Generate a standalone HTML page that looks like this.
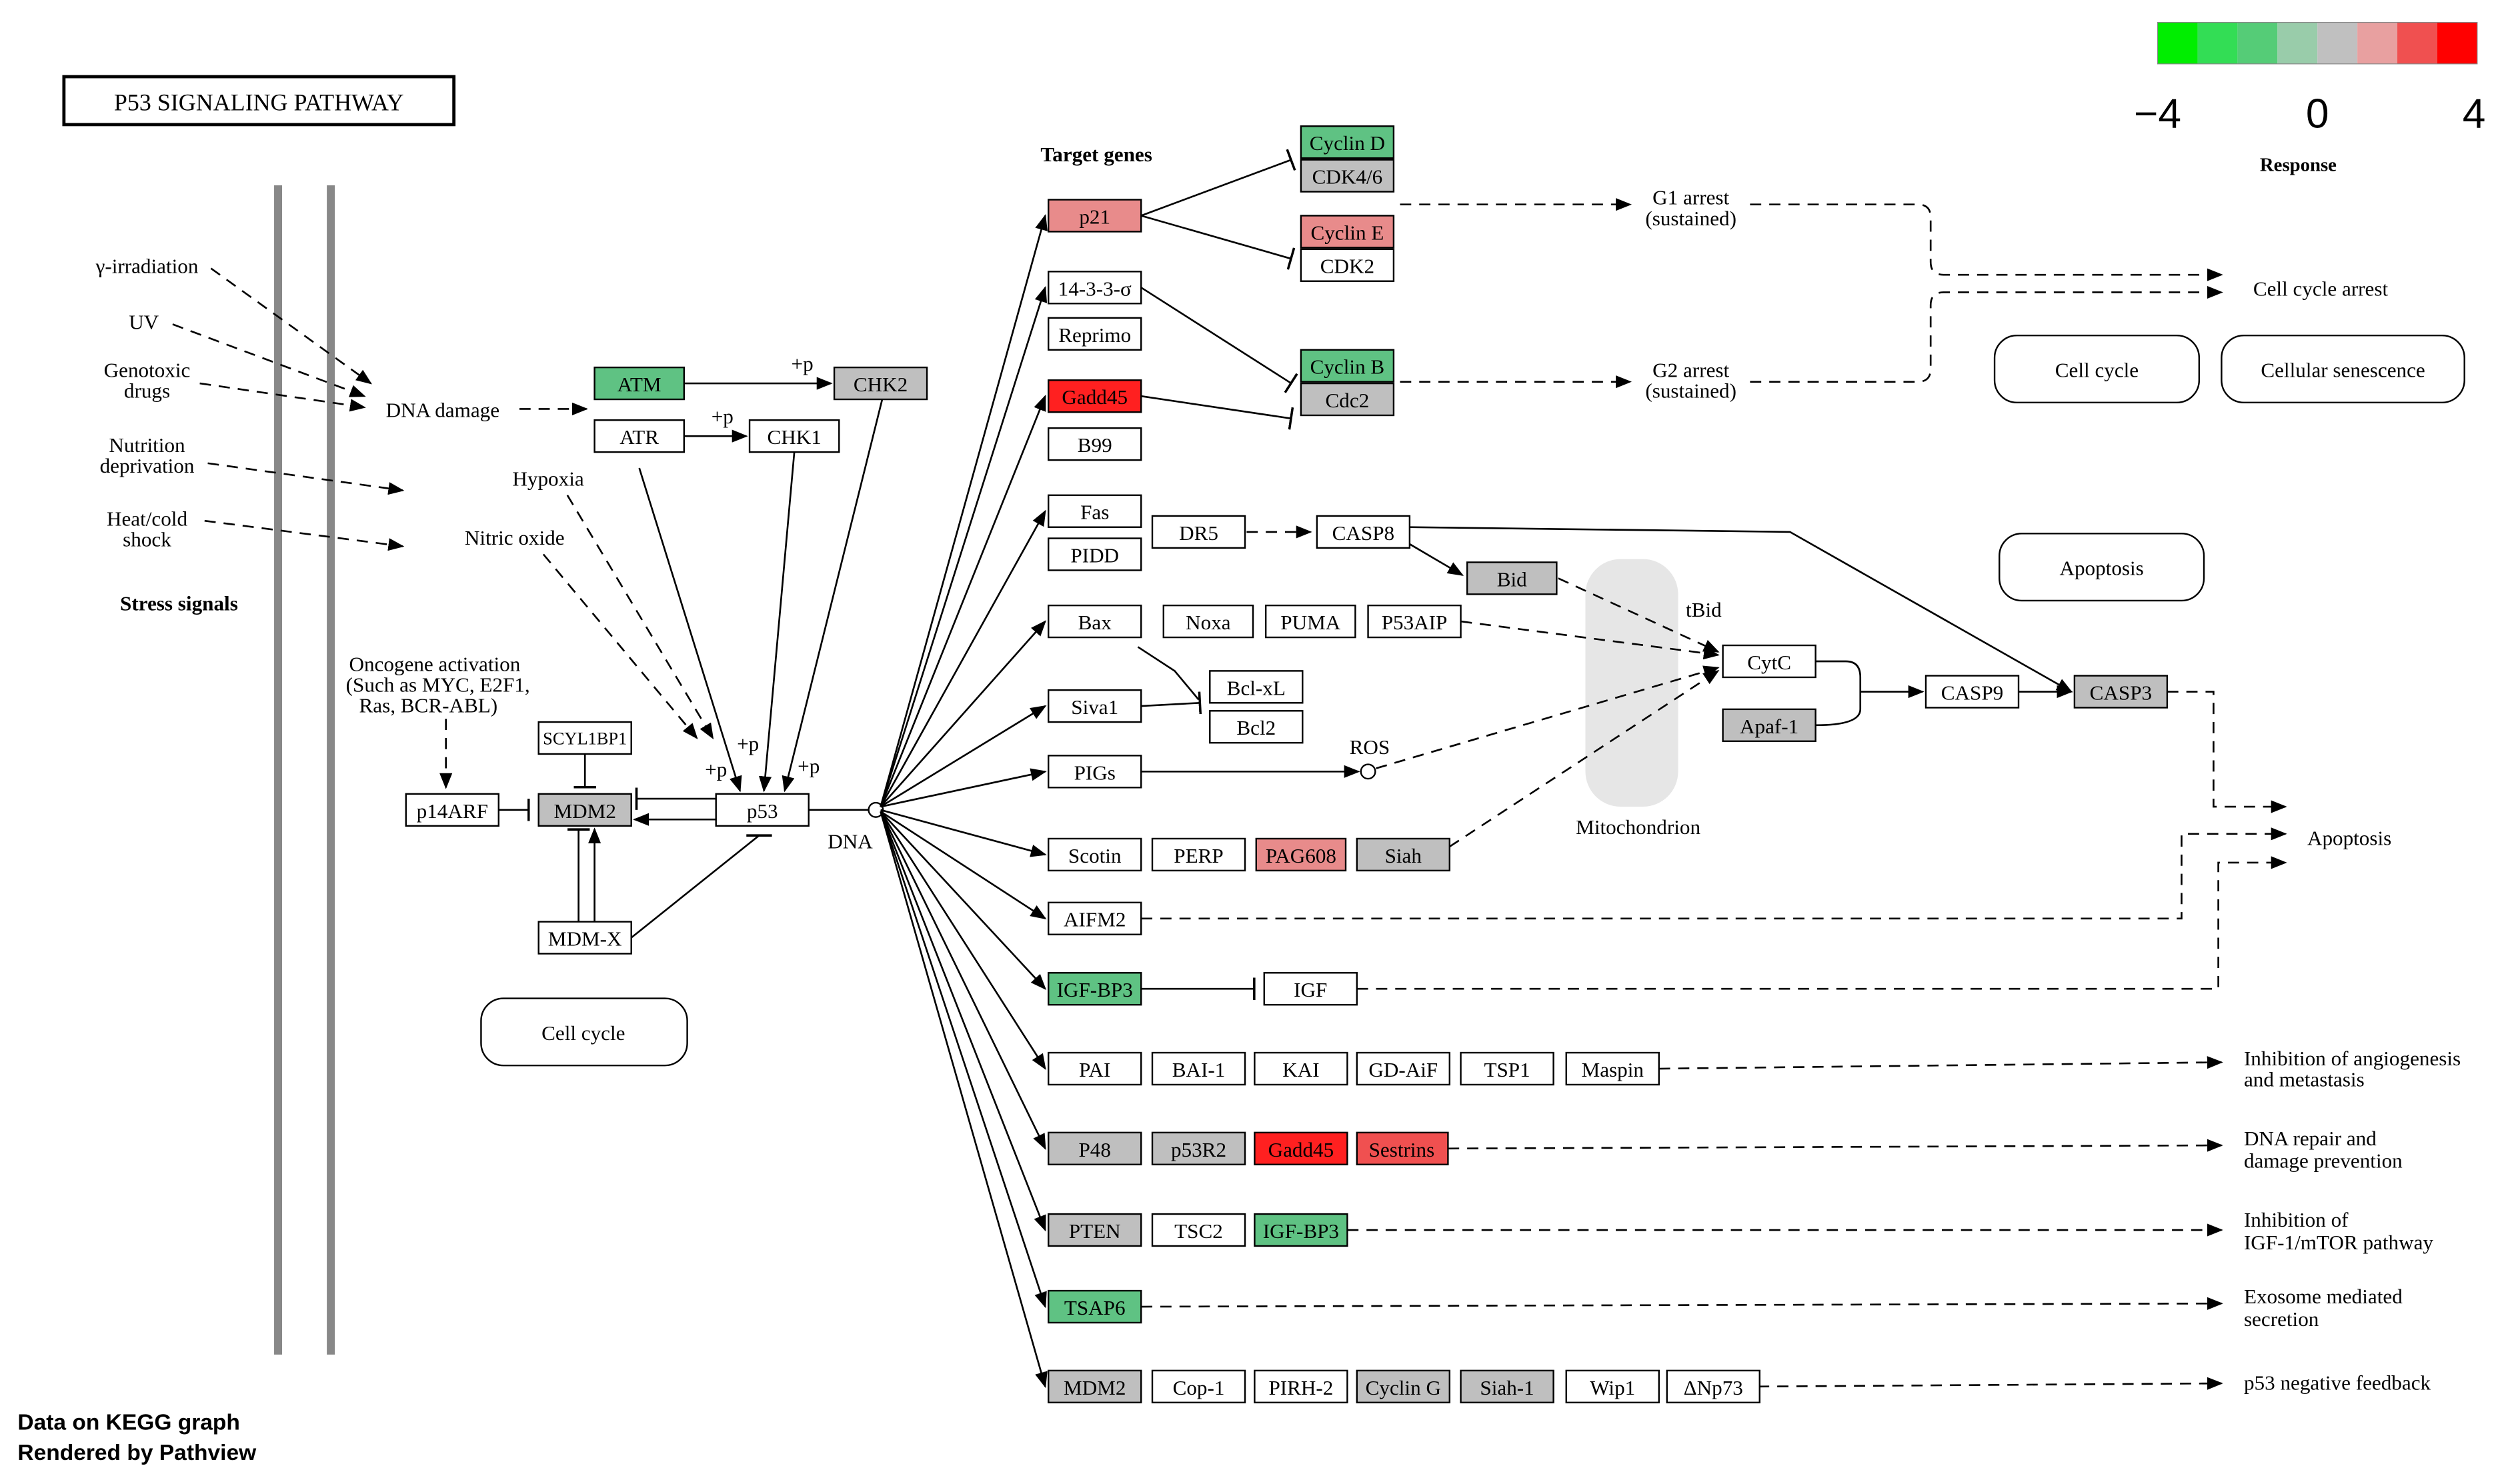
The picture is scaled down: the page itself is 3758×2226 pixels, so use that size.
<!DOCTYPE html>
<html><head><meta charset="utf-8"><style>
html,body{margin:0;padding:0;background:#fff;}
svg{display:block;}
text{font-family:"Liberation Serif",serif;font-size:13px;fill:#000;}
.b{font-weight:bold;}
.n{stroke:#000;stroke-width:1;}
.l{stroke:#000;stroke-width:1.1;fill:none;}
.d{stroke:#000;stroke-width:1.1;fill:none;stroke-dasharray:7,5;}
</style></head><body>
<svg width="3758" height="2226" viewBox="0 0 1568 929" preserveAspectRatio="none" xmlns="http://www.w3.org/2000/svg">
<defs>
<marker id="a" markerWidth="10" markerHeight="8" refX="9" refY="4" orient="auto" markerUnits="userSpaceOnUse"><path d="M0,0 L10,4 L0,8 z" fill="#000"/></marker>
<marker id="t" markerWidth="2" markerHeight="14" refX="1" refY="7" orient="auto" markerUnits="userSpaceOnUse"><rect x="0" y="0" width="1.5" height="14" fill="#000"/></marker>
</defs>
<rect width="1568" height="929" fill="#fff"/>
<!-- mitochondrion -->
<rect x="992" y="350" width="58" height="155" rx="22" fill="#e6e6e6"/>
<text x="1025" y="522" text-anchor="middle">Mitochondrion</text>
<!-- title -->
<rect x="40" y="48" width="244" height="30" fill="#fff" stroke="#000" stroke-width="2"/>
<text x="162" y="69" text-anchor="middle" style="font-size:15px">P53  SIGNALING  PATHWAY</text>
<!-- legend -->
<g>
<rect x="1350" y="14" width="25" height="26" fill="#00ee00"/>
<rect x="1375" y="14" width="25" height="26" fill="#33dd55"/>
<rect x="1400" y="14" width="25" height="26" fill="#55cc77"/>
<rect x="1425" y="14" width="25" height="26" fill="#99ccaa"/>
<rect x="1450" y="14" width="25" height="26" fill="#c0c0c0"/>
<rect x="1475" y="14" width="25" height="26" fill="#e8a0a0"/>
<rect x="1500" y="14" width="25" height="26" fill="#f05050"/>
<rect x="1525" y="14" width="25" height="26" fill="#ff0000"/>
<rect x="1350" y="14" width="200" height="26" fill="none" stroke="#888" stroke-width="0.5"/>
<text x="1350" y="80" text-anchor="middle" style="font-family:'Liberation Sans',sans-serif;font-size:26px">−4</text>
<text x="1450" y="80" text-anchor="middle" style="font-family:'Liberation Sans',sans-serif;font-size:26px">0</text>
<text x="1548" y="80" text-anchor="middle" style="font-family:'Liberation Sans',sans-serif;font-size:26px">4</text>
<text x="1438" y="107" text-anchor="middle" class="b" style="font-size:12px">Response</text>
</g>
<!-- membrane -->
<line x1="174" y1="116" x2="174" y2="848" stroke="#888" stroke-width="5"/>
<line x1="207" y1="116" x2="207" y2="848" stroke="#888" stroke-width="5"/>
<!-- stress -->
<text x="92" y="171" text-anchor="middle">γ-irradiation</text>
<text x="90" y="206" text-anchor="middle">UV</text>
<text x="92" y="236" text-anchor="middle">Genotoxic</text><text x="92" y="249" text-anchor="middle">drugs</text>
<text x="92" y="283" text-anchor="middle">Nutrition</text><text x="92" y="296" text-anchor="middle">deprivation</text>
<text x="92" y="329" text-anchor="middle">Heat/cold</text><text x="92" y="342" text-anchor="middle">shock</text>
<text x="112" y="382" text-anchor="middle" class="b">Stress signals</text>
<path class="d" d="M132,168 L232,240" marker-end="url(#a)"/>
<path class="d" d="M108,203 L228,248" marker-end="url(#a)"/>
<path class="d" d="M125,240 L228,255" marker-end="url(#a)"/>
<path class="d" d="M130,290 L252,307" marker-end="url(#a)"/>
<path class="d" d="M128,326 L252,342" marker-end="url(#a)"/>
<text x="277" y="261" text-anchor="middle">DNA damage</text>
<path class="d" d="M325,256 L367,256" marker-end="url(#a)"/>
<text x="343" y="304" text-anchor="middle">Hypoxia</text>
<text x="322" y="341" text-anchor="middle">Nitric oxide</text>
<text x="272" y="420" text-anchor="middle">Oncogene activation</text>
<text x="274" y="433" text-anchor="middle">(Such as MYC, E2F1,</text>
<text x="268" y="446" text-anchor="middle">Ras, BCR-ABL)</text>
<!-- left edges -->
<path class="l" d="M428,240 L520,240" marker-end="url(#a)"/>
<text x="502" y="232" text-anchor="middle">+p</text>
<path class="l" d="M428,273 L467,273" marker-end="url(#a)"/>
<text x="452" y="265" text-anchor="middle">+p</text>
<path class="l" d="M400,293 L463,495" marker-end="url(#a)"/>
<path class="l" d="M497,283 L478,495" marker-end="url(#a)"/>
<path class="l" d="M552,250 L491,495" marker-end="url(#a)"/>
<path class="d" d="M355,310 L446,462" marker-end="url(#a)"/>
<path class="d" d="M340,347 L436,462" marker-end="url(#a)"/>
<text x="448" y="486" text-anchor="middle">+p</text>
<text x="468" y="470" text-anchor="middle">+p</text>
<text x="506" y="484" text-anchor="middle">+p</text>
<path class="d" d="M279,450 L279,493" marker-end="url(#a)"/>
<path class="l" d="M312,507 L331,507" marker-end="url(#t)"/>
<path class="l" d="M366,472 L366,493" marker-end="url(#t)"/>
<path class="l" d="M448,500 L398,500" marker-end="url(#t)"/>
<path class="l" d="M448,513 L397,513" marker-end="url(#a)"/>
<path class="l" d="M362,577 L362,519" marker-end="url(#t)"/>
<path class="l" d="M372,577 L372,519" marker-end="url(#a)"/>
<path class="l" d="M395,587 L475,523"/>
<line x1="467" y1="523" x2="483" y2="523" stroke="#000" stroke-width="1.5"/>
<path class="l" d="M506,507 L544,507"/>
<circle cx="548" cy="507" r="4.5" fill="#fff" stroke="#000"/>
<text x="532" y="531" text-anchor="middle">DNA</text>
<!-- DNA fan -->
<g>
<path class="l" d="M551,505 L654,135" marker-end="url(#a)"/>
<path class="l" d="M551,505 L654,180" marker-end="url(#a)"/>
<path class="l" d="M551,505 L654,248" marker-end="url(#a)"/>
<path class="l" d="M551,505 L654,320" marker-end="url(#a)"/>
<path class="l" d="M551,505 L654,389" marker-end="url(#a)"/>
<path class="l" d="M551,505 L654,442" marker-end="url(#a)"/>
<path class="l" d="M551,505 L654,483" marker-end="url(#a)"/>
<path class="l" d="M551,507 L654,535" marker-end="url(#a)"/>
<path class="l" d="M551,508 L654,575" marker-end="url(#a)"/>
<path class="l" d="M551,508 L654,619" marker-end="url(#a)"/>
<path class="l" d="M551,508 L654,669" marker-end="url(#a)"/>
<path class="l" d="M551,508 L654,719" marker-end="url(#a)"/>
<path class="l" d="M551,508 L654,770" marker-end="url(#a)"/>
<path class="l" d="M551,508 L654,818" marker-end="url(#a)"/>
<path class="l" d="M551,508 L654,868" marker-end="url(#a)"/>
</g>
<text x="686" y="101" text-anchor="middle" class="b">Target genes</text>
<!-- right edges -->
<path class="l" d="M714,135 L808,100" marker-end="url(#t)"/>
<path class="l" d="M714,135 L808,162" marker-end="url(#t)"/>
<path class="l" d="M714,180 L808,240" marker-end="url(#t)"/>
<path class="l" d="M714,248 L808,262" marker-end="url(#t)"/>
<path class="d" d="M876,128 L1020,128" marker-end="url(#a)"/>
<path class="d" d="M876,239 L1020,239" marker-end="url(#a)"/>
<text x="1058" y="128" text-anchor="middle">G1 arrest</text><text x="1058" y="141" text-anchor="middle">(sustained)</text>
<text x="1058" y="236" text-anchor="middle">G2 arrest</text><text x="1058" y="249" text-anchor="middle">(sustained)</text>
<path class="d" d="M1095,128 L1200,128 Q1208,128 1208,136 L1208,164 Q1208,172 1216,172 L1390,172" marker-end="url(#a)"/>
<path class="d" d="M1095,239 L1200,239 Q1208,239 1208,231 L1208,191 Q1208,183 1216,183 L1390,183" marker-end="url(#a)"/>
<text x="1452" y="185" text-anchor="middle">Cell cycle arrest</text>
<path class="d" d="M780,333 L820,333" marker-end="url(#a)"/>
<path class="l" d="M881,340 L915,360" marker-end="url(#a)"/>
<path class="l" d="M881,330 L1120,333 L1296,433" marker-end="url(#a)"/>
<path class="d" d="M975,362 L1075,408" marker-end="url(#a)"/>
<path class="d" d="M914,389 L1075,410" marker-end="url(#a)"/>
<path class="d" d="M861,481 L1075,418" marker-end="url(#a)"/>
<path class="d" d="M907,530 L1075,420" marker-end="url(#a)"/>
<text x="1066" y="386" text-anchor="middle">tBid</text>
<path class="l" d="M714,483 L850,483" marker-end="url(#a)"/>
<circle cx="856" cy="483" r="4.5" fill="#fff" stroke="#000"/>
<text x="857" y="472" text-anchor="middle">ROS</text>
<path class="l" d="M712,405 L735,420 L750,438"/>
<path class="l" d="M714,442 L751,440" marker-end="url(#t)"/>
<path class="l" d="M1136,414 L1155,414 Q1164,414 1164,424 L1164,444 Q1164,454 1136,454"/>
<path class="l" d="M1164,433 L1203,433" marker-end="url(#a)"/>
<path class="l" d="M1263,433 L1296,433" marker-end="url(#a)"/>
<path class="d" d="M1356,433 L1385,433 L1385,505 L1430,505" marker-end="url(#a)"/>
<path class="d" d="M714,575 L1365,575 L1365,522 L1430,522" marker-end="url(#a)"/>
<path class="l" d="M714,619 L785,619" marker-end="url(#t)"/>
<path class="d" d="M849,619 L1388,619 L1388,540 L1430,540" marker-end="url(#a)"/>
<text x="1470" y="529" text-anchor="middle">Apoptosis</text>
<path class="d" d="M1038,669 L1390,665" marker-end="url(#a)"/>
<path class="d" d="M906,719 L1390,717" marker-end="url(#a)"/>
<path class="d" d="M843,770 L1390,770" marker-end="url(#a)"/>
<path class="d" d="M714,818 L1390,816" marker-end="url(#a)"/>
<path class="d" d="M1100,868 L1390,866" marker-end="url(#a)"/>
<text x="1404" y="667">Inhibition of angiogenesis</text><text x="1404" y="680">and metastasis</text>
<text x="1404" y="717">DNA repair and</text><text x="1404" y="731">damage prevention</text>
<text x="1404" y="768">Inhibition of</text><text x="1404" y="782">IGF-1/mTOR pathway</text>
<text x="1404" y="816">Exosome mediated</text><text x="1404" y="830">secretion</text>
<text x="1404" y="870">p53 negative feedback</text>
<!-- rounded boxes -->
<rect x="301" y="625" width="129" height="42" rx="14" fill="#fff" stroke="#000"/><text x="365" y="651" text-anchor="middle">Cell cycle</text>
<rect x="1248" y="210" width="128" height="42" rx="14" fill="#fff" stroke="#000"/><text x="1312" y="236" text-anchor="middle">Cell cycle</text>
<rect x="1390" y="210" width="152" height="42" rx="14" fill="#fff" stroke="#000"/><text x="1466" y="236" text-anchor="middle">Cellular senescence</text>
<rect x="1251" y="334" width="128" height="42" rx="14" fill="#fff" stroke="#000"/><text x="1315" y="360" text-anchor="middle">Apoptosis</text>
<!-- gene boxes -->
<g class="n">
<rect x="372" y="230" width="56" height="20" fill="#5fc283"/>
<rect x="522" y="230" width="58" height="20" fill="#bfbfbf"/>
<rect x="372" y="263" width="56" height="20" fill="#fff"/>
<rect x="469" y="263" width="56" height="20" fill="#fff"/>
<rect x="337" y="452" width="58" height="20" fill="#fff"/>
<rect x="254" y="497" width="58" height="20" fill="#fff"/>
<rect x="337" y="497" width="58" height="20" fill="#bfbfbf"/>
<rect x="448" y="497" width="58" height="20" fill="#fff"/>
<rect x="337" y="577" width="58" height="20" fill="#fff"/>
<rect x="814" y="79" width="58" height="20" fill="#5fc283"/>
<rect x="814" y="100" width="58" height="20" fill="#bfbfbf"/>
<rect x="656" y="125" width="58" height="20" fill="#e88b8b"/>
<rect x="814" y="135" width="58" height="20" fill="#e88b8b"/>
<rect x="814" y="156" width="58" height="20" fill="#fff"/>
<rect x="656" y="170" width="58" height="20" fill="#fff"/>
<rect x="656" y="199" width="58" height="20" fill="#fff"/>
<rect x="814" y="219" width="58" height="20" fill="#5fc283"/>
<rect x="814" y="240" width="58" height="20" fill="#bfbfbf"/>
<rect x="656" y="238" width="58" height="20" fill="#ff2020"/>
<rect x="656" y="268" width="58" height="20" fill="#fff"/>
<rect x="656" y="310" width="58" height="20" fill="#fff"/>
<rect x="656" y="337" width="58" height="20" fill="#fff"/>
<rect x="721" y="323" width="58" height="20" fill="#fff"/>
<rect x="824" y="323" width="58" height="20" fill="#fff"/>
<rect x="918" y="352" width="56" height="20" fill="#bfbfbf"/>
<rect x="656" y="379" width="58" height="20" fill="#fff"/>
<rect x="728" y="379" width="56" height="20" fill="#fff"/>
<rect x="792" y="379" width="56" height="20" fill="#fff"/>
<rect x="856" y="379" width="58" height="20" fill="#fff"/>
<rect x="757" y="420" width="58" height="20" fill="#fff"/>
<rect x="757" y="445" width="58" height="20" fill="#fff"/>
<rect x="656" y="432" width="58" height="20" fill="#fff"/>
<rect x="656" y="473" width="58" height="20" fill="#fff"/>
<rect x="656" y="525" width="58" height="20" fill="#fff"/>
<rect x="721" y="525" width="58" height="20" fill="#fff"/>
<rect x="786" y="525" width="56" height="20" fill="#e88b8b"/>
<rect x="849" y="525" width="58" height="20" fill="#bfbfbf"/>
<rect x="656" y="565" width="58" height="20" fill="#fff"/>
<rect x="656" y="609" width="58" height="20" fill="#5fc283"/>
<rect x="791" y="609" width="58" height="20" fill="#fff"/>
<rect x="656" y="659" width="58" height="20" fill="#fff"/>
<rect x="721" y="659" width="58" height="20" fill="#fff"/>
<rect x="785" y="659" width="58" height="20" fill="#fff"/>
<rect x="849" y="659" width="58" height="20" fill="#fff"/>
<rect x="914" y="659" width="58" height="20" fill="#fff"/>
<rect x="980" y="659" width="58" height="20" fill="#fff"/>
<rect x="656" y="709" width="58" height="20" fill="#bfbfbf"/>
<rect x="721" y="709" width="58" height="20" fill="#bfbfbf"/>
<rect x="785" y="709" width="58" height="20" fill="#ff2020"/>
<rect x="849" y="709" width="57" height="20" fill="#f05050"/>
<rect x="656" y="760" width="58" height="20" fill="#bfbfbf"/>
<rect x="721" y="760" width="58" height="20" fill="#fff"/>
<rect x="785" y="760" width="58" height="20" fill="#5fc283"/>
<rect x="656" y="808" width="58" height="20" fill="#5fc283"/>
<rect x="656" y="858" width="58" height="20" fill="#bfbfbf"/>
<rect x="721" y="858" width="58" height="20" fill="#fff"/>
<rect x="785" y="858" width="58" height="20" fill="#fff"/>
<rect x="849" y="858" width="58" height="20" fill="#bfbfbf"/>
<rect x="914" y="858" width="58" height="20" fill="#bfbfbf"/>
<rect x="980" y="858" width="58" height="20" fill="#fff"/>
<rect x="1043" y="858" width="58" height="20" fill="#fff"/>
<rect x="1078" y="404" width="58" height="20" fill="#fff"/>
<rect x="1078" y="444" width="58" height="20" fill="#bfbfbf"/>
<rect x="1205" y="423" width="58" height="20" fill="#fff"/>
<rect x="1298" y="423" width="58" height="20" fill="#bfbfbf"/>
</g>
<g text-anchor="middle">
<text x="400" y="245">ATM</text><text x="551" y="245">CHK2</text>
<text x="400" y="278">ATR</text><text x="497" y="278">CHK1</text>
<text x="366" y="466" style="font-size:11px">SCYL1BP1</text>
<text x="283" y="512">p14ARF</text><text x="366" y="512">MDM2</text>
<text x="477" y="512">p53</text><text x="366" y="592">MDM-X</text>
<text x="843" y="94">Cyclin D</text><text x="843" y="115">CDK4/6</text>
<text x="685" y="140">p21</text>
<text x="843" y="150">Cyclin E</text><text x="843" y="171">CDK2</text>
<text x="685" y="185">14-3-3-σ</text><text x="685" y="214">Reprimo</text>
<text x="843" y="234">Cyclin B</text><text x="843" y="255">Cdc2</text>
<text x="685" y="253">Gadd45</text><text x="685" y="283">B99</text>
<text x="685" y="325">Fas</text><text x="685" y="352">PIDD</text>
<text x="750" y="338">DR5</text><text x="853" y="338">CASP8</text>
<text x="946" y="367">Bid</text>
<text x="685" y="394">Bax</text><text x="756" y="394">Noxa</text>
<text x="820" y="394">PUMA</text><text x="885" y="394">P53AIP</text>
<text x="786" y="435">Bcl-xL</text><text x="786" y="460">Bcl2</text>
<text x="685" y="447">Siva1</text><text x="685" y="488">PIGs</text>
<text x="685" y="540">Scotin</text><text x="750" y="540">PERP</text>
<text x="814" y="540">PAG608</text><text x="878" y="540">Siah</text>
<text x="685" y="580">AIFM2</text>
<text x="685" y="624">IGF-BP3</text><text x="820" y="624">IGF</text>
<text x="685" y="674">PAI</text><text x="750" y="674">BAI-1</text><text x="814" y="674">KAI</text>
<text x="878" y="674">GD-AiF</text><text x="943" y="674">TSP1</text><text x="1009" y="674">Maspin</text>
<text x="685" y="724">P48</text><text x="750" y="724">p53R2</text>
<text x="814" y="724">Gadd45</text><text x="877" y="724">Sestrins</text>
<text x="685" y="775">PTEN</text><text x="750" y="775">TSC2</text><text x="814" y="775">IGF-BP3</text>
<text x="685" y="823">TSAP6</text>
<text x="685" y="873">MDM2</text><text x="750" y="873">Cop-1</text><text x="814" y="873">PIRH-2</text>
<text x="878" y="873">Cyclin G</text><text x="943" y="873">Siah-1</text>
<text x="1009" y="873">Wip1</text><text x="1072" y="873">ΔNp73</text>
<text x="1107" y="419">CytC</text><text x="1107" y="459">Apaf-1</text>
<text x="1234" y="438">CASP9</text><text x="1327" y="438">CASP3</text>
</g>
<text x="11" y="895" style="font-family:'Liberation Sans',sans-serif;font-size:14px;font-weight:bold">Data on KEGG graph</text>
<text x="11" y="914" style="font-family:'Liberation Sans',sans-serif;font-size:14px;font-weight:bold">Rendered by Pathview</text>
</svg>
</body></html>
